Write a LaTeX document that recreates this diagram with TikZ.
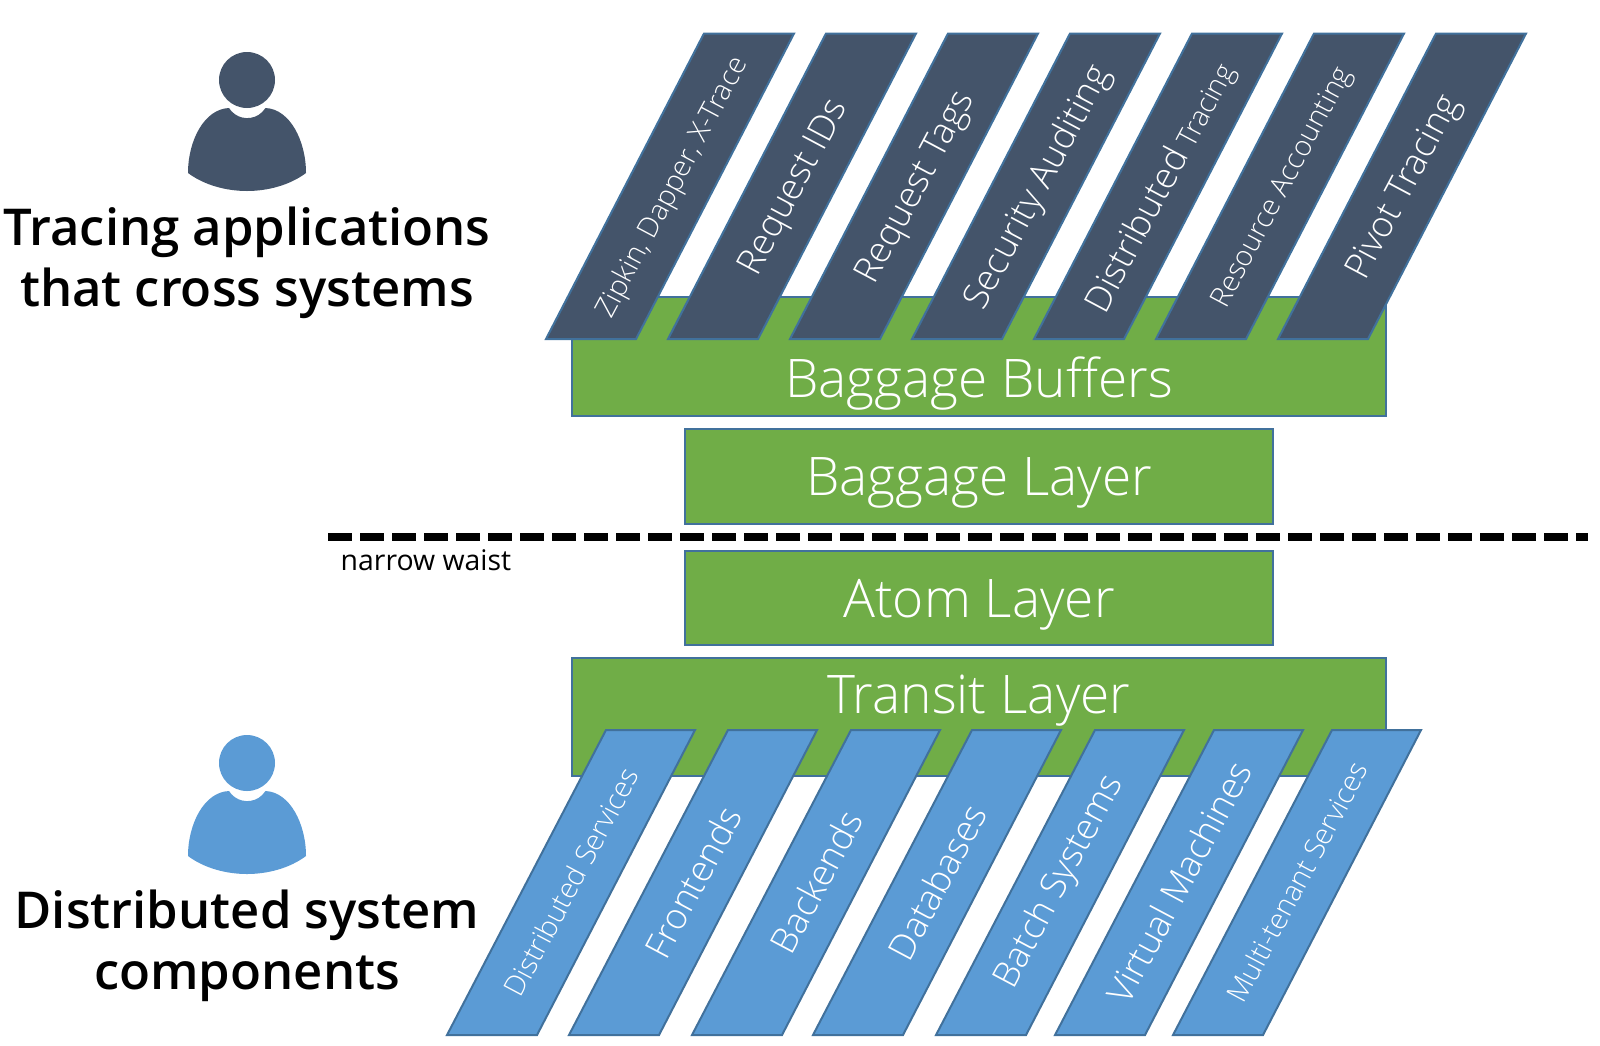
\documentclass[tikz,border=0pt]{standalone}
\usepackage{fontspec}
\setmainfont{Open Sans}
\newfontfamily\lightfont{Open Sans}[UprightFont=* Light,BoldFont=* Semibold]
\newfontfamily\headfont{Open Sans}[UprightFont=* Semibold]
\definecolor{slate}{HTML}{44546A}
\definecolor{edgeblue}{HTML}{41719C}
\definecolor{layergreen}{HTML}{70AD47}
\definecolor{compblue}{HTML}{5B9BD5}
\newcommand{\fsz}[1]{\fontsize{#1}{#1}\selectfont}

\begin{document}
\begin{tikzpicture}[x=0.5pt,y=-0.5pt,
    layertext/.style={text=white, inner sep=0pt, text height=19pt, text depth=0pt, font=\lightfont\fsz{26.6}},
    layer/.style={rectangle, draw=edgeblue, line width=1pt, fill=layergreen, layertext},
    tracebar/.style={draw=edgeblue, line width=1pt, fill=slate},
    compbar/.style={draw=edgeblue, line width=1pt, fill=compblue},
    barlabel/.style={text=white, rotate=62, inner sep=0pt, font=\lightfont},
    headline/.style={align=center, inner sep=0pt, font=\headfont\fontsize{25.4}{30.6}\selectfont}]

    \useasboundingbox (0,0) rectangle (1600,1045);

    % Layers
    \node[layer, minimum width=407pt, minimum height=59.5pt] (buffers) at (979,356.5) {};
    \node[layer, minimum width=294pt, minimum height=47.5pt] (baggage) at (979,476) {Baggage Layer};
    \node[layer, minimum width=294pt, minimum height=47pt] (atom) at (979,598) {Atom Layer};
    \node[layer, minimum width=407pt, minimum height=59pt] (transit) at (979,717) {};
    \node[layertext] (bufferslabel) at (979,378) {Baggage Buffers};
    \node[layertext] (transitlabel) at (979,694) {Transit Layer};

    % Narrow waist
    \coordinate (waistL) at (328,536.5);
    \coordinate (waistR) at (1588,536.5);
    \draw[line width=4pt, dash pattern=on 12pt off 4pt] (waistL) -- (waistR);
    \node[font=\fsz{14.2}] (waist) at (426,560) {narrow waist};

    % Tracing applications
    \foreach \x/\lab/\fs [count=\i] in {
        546/{Zipkin, Dapper, X-Trace}/14.2,
        668/{Request IDs}/18,
        790/{Request Tags}/18,
        912/{Security Auditing}/18,
        1034/{Distributed{\fsz{14} Tracing}}/18,
        1156/{Resource Accounting}/14.2,
        1278/{Pivot Tracing}/18} {
        \draw[tracebar] (\x,339) -- (\x+158,33.5) -- (\x+248,33.5) -- (\x+90,339) -- cycle;
        \node[barlabel, font=\lightfont\fsz{\fs}] (app\i) at (\x+127,188) {\lab};
    }

    % System components
    \foreach \x/\lab/\fs [count=\i] in {
        447/{Distributed Services}/14.2,
        569/{Frontends}/18,
        692/{Backends}/18,
        813/{Databases}/18,
        936/{Batch Systems}/18,
        1055/{Virtual Machines}/18,
        1173/{Multi-tenant Services}/14.2} {
        \draw[compbar] (\x,1035) -- (\x+159,730) -- (\x+248,730) -- (\x+90,1035) -- cycle;
        \node[barlabel, font=\lightfont\fsz{\fs}] (comp\i) at (\x+124,882) {\lab};
    }

    % People
    \foreach \y/\col in {1/slate, 684/compblue} {
        \fill[\col] (247,79+\y) circle (28);
        \fill[\col] (229,107+\y) arc[start angle=212, end angle=328, x radius=21.5, y radius=-21.5]
            .. controls (290,108+\y) and (306,140+\y) .. (306,172+\y)
            .. controls (290,184+\y) and (268,190+\y) .. (247,190+\y)
            .. controls (226,190+\y) and (204,184+\y) .. (188,172+\y)
            .. controls (188,140+\y) and (204,108+\y) .. (229,107+\y) -- cycle;
    }
    \node[headline] (tracing) at (247,263) {Tracing applications\\that cross systems};
    \node[headline] (components) at (247,946) {Distributed system\\components};
\end{tikzpicture}
\end{document}
